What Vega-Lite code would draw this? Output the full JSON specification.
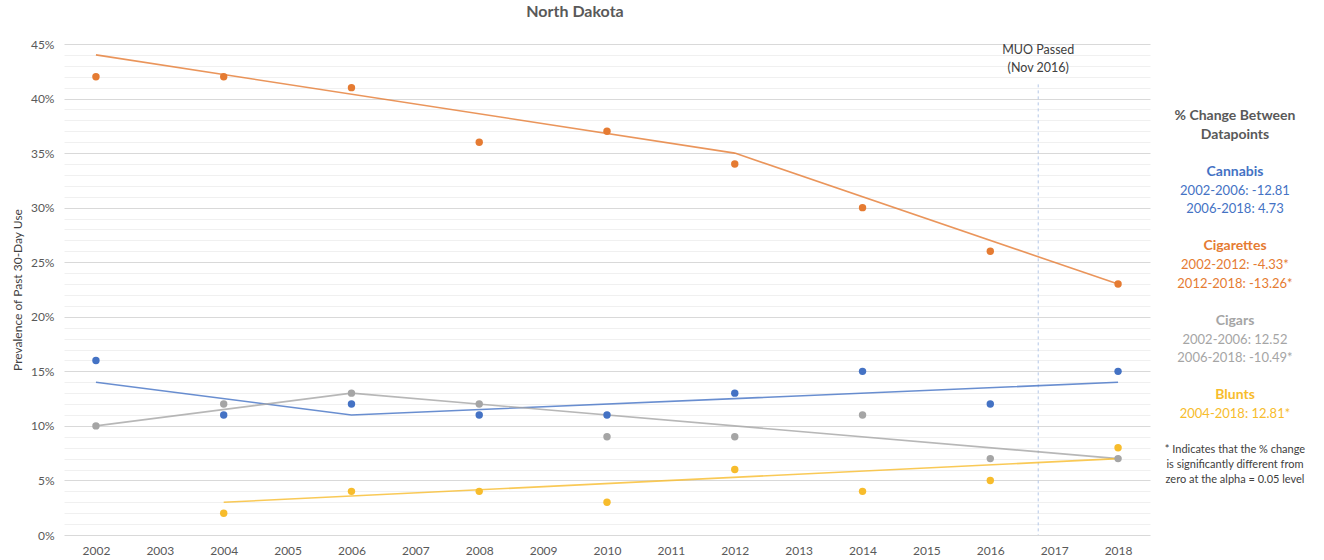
{
  "$schema": "https://vega.github.io/schema/vega-lite/v6.json",
  "autosize": {"type": "none"},
  "width": 1086,
  "height": 491,
  "padding": {"left": 64, "top": 44, "right": 174, "bottom": 25},
  "background": "white",
  "config": {
    "font": "Lato",
    "view": {"stroke": null},
    "title": {"font": "Lato"},
    "axis": {"labelFont": "Lato", "titleFont": "Lato", "labelOverlap": false}
  },
  "title": {
    "text": "North Dakota",
    "fontSize": 16,
    "fontWeight": "bold",
    "color": "#595959",
    "anchor": "middle",
    "frame": "group",
    "dx": -32,
    "dy": 18,
    "baseline": "middle",
    "offset": 28
  },
  "datasets": {
    "obs": [
      {"series": "Cigarettes", "year": 2002, "value": 42},
      {"series": "Cigarettes", "year": 2004, "value": 42},
      {"series": "Cigarettes", "year": 2006, "value": 41},
      {"series": "Cigarettes", "year": 2008, "value": 36},
      {"series": "Cigarettes", "year": 2010, "value": 37},
      {"series": "Cigarettes", "year": 2012, "value": 34},
      {"series": "Cigarettes", "year": 2014, "value": 30},
      {"series": "Cigarettes", "year": 2016, "value": 26},
      {"series": "Cigarettes", "year": 2018, "value": 23},
      {"series": "Cannabis", "year": 2002, "value": 16},
      {"series": "Cannabis", "year": 2004, "value": 11},
      {"series": "Cannabis", "year": 2006, "value": 12},
      {"series": "Cannabis", "year": 2008, "value": 11},
      {"series": "Cannabis", "year": 2010, "value": 11},
      {"series": "Cannabis", "year": 2012, "value": 13},
      {"series": "Cannabis", "year": 2014, "value": 15},
      {"series": "Cannabis", "year": 2016, "value": 12},
      {"series": "Cannabis", "year": 2018, "value": 15},
      {"series": "Cigars", "year": 2002, "value": 10},
      {"series": "Cigars", "year": 2004, "value": 12},
      {"series": "Cigars", "year": 2006, "value": 13},
      {"series": "Cigars", "year": 2008, "value": 12},
      {"series": "Cigars", "year": 2010, "value": 9},
      {"series": "Cigars", "year": 2012, "value": 9},
      {"series": "Cigars", "year": 2014, "value": 11},
      {"series": "Cigars", "year": 2016, "value": 7},
      {"series": "Cigars", "year": 2018, "value": 7},
      {"series": "Blunts", "year": 2004, "value": 2},
      {"series": "Blunts", "year": 2006, "value": 4},
      {"series": "Blunts", "year": 2008, "value": 4},
      {"series": "Blunts", "year": 2010, "value": 3},
      {"series": "Blunts", "year": 2012, "value": 6},
      {"series": "Blunts", "year": 2014, "value": 4},
      {"series": "Blunts", "year": 2016, "value": 5},
      {"series": "Blunts", "year": 2018, "value": 8}
    ],
    "trend": [
      {"series": "Cigarettes", "year": 2002, "value": 44},
      {"series": "Cigarettes", "year": 2012, "value": 35},
      {"series": "Cigarettes", "year": 2018, "value": 23},
      {"series": "Cannabis", "year": 2002, "value": 14},
      {"series": "Cannabis", "year": 2006, "value": 11},
      {"series": "Cannabis", "year": 2018, "value": 14},
      {"series": "Cigars", "year": 2002, "value": 10},
      {"series": "Cigars", "year": 2006, "value": 13},
      {"series": "Cigars", "year": 2018, "value": 7},
      {"series": "Blunts", "year": 2004, "value": 3},
      {"series": "Blunts", "year": 2018, "value": 7}
    ],
    "events": [
      {"event": "MUO Passed\n(Nov 2016)", "year": 2016.75}
    ],
    "panel": [
      {"line": 0, "label": "% Change Between", "group": "Header", "kind": "head"},
      {"line": 1, "label": "Datapoints", "group": "Header", "kind": "head"},
      {"line": 3, "label": "Cannabis", "group": "Cannabis", "kind": "head"},
      {"line": 4, "label": "2002-2006: -12.81", "group": "Cannabis", "kind": "val"},
      {"line": 5, "label": "2006-2018: 4.73", "group": "Cannabis", "kind": "val"},
      {"line": 7, "label": "Cigarettes", "group": "Cigarettes", "kind": "head"},
      {"line": 8, "label": "2002-2012: -4.33*", "group": "Cigarettes", "kind": "val"},
      {"line": 9, "label": "2012-2018: -13.26*", "group": "Cigarettes", "kind": "val"},
      {"line": 11, "label": "Cigars", "group": "Cigars", "kind": "head"},
      {"line": 12, "label": "2002-2006: 12.52", "group": "Cigars", "kind": "val"},
      {"line": 13, "label": "2006-2018: -10.49*", "group": "Cigars", "kind": "val"},
      {"line": 15, "label": "Blunts", "group": "Blunts", "kind": "head"},
      {"line": 16, "label": "2004-2018: 12.81*", "group": "Blunts", "kind": "val"},
      {"line": 18, "label": "* Indicates that the % change\nis significantly different from\nzero at the alpha = 0.05 level", "group": "Note", "kind": "note"}
    ]
  },
  "layer": [
    {
      "layer": [
        {
          "data": {"name": "events"},
          "mark": {"type": "rule", "color": "#B4C7E7", "strokeWidth": 1, "strokeDash": [3, 3]},
          "encoding": {
            "x": {
              "field": "year",
              "type": "quantitative",
              "scale": {"domain": [2001.5, 2018.5], "nice": false, "zero": false},
              "axis": {
                "title": null,
                "values": [2002, 2003, 2004, 2005, 2006, 2007, 2008, 2009, 2010, 2011, 2012, 2013, 2014, 2015, 2016, 2017, 2018],
                "tickCount": 40,
                "format": "d",
                "grid": false,
                "domain": false,
                "ticks": false,
                "labelOverlap": false,
                "labelPadding": 10,
                "labelFontSize": 12,
                "labelColor": "#595959"
              }
            },
            "y": {
              "datum": 41.3,
              "type": "quantitative",
              "scale": {"domain": [0, 45], "nice": false},
              "axis": {
                "title": "Prevalence of Past 30-Day Use",
                "titleFontSize": 12,
                "titleFontWeight": "normal",
                "titleColor": "#404040",
                "titlePadding": 6,
                "values": [0,1,2,3,4,5,6,7,8,9,10,11,12,13,14,15,16,17,18,19,20,21,22,23,24,25,26,27,28,29,30,31,32,33,34,35,36,37,38,39,40,41,42,43,44,45],
                "tickCount": 100,
                "labelExpr": "datum.value % 5 === 0 ? datum.value + '%' : ''",
                "labelOverlap": false,
                "labelFlush": false,
                "grid": true,
                "gridColor": {"condition": {"test": "datum.value % 5 === 0", "value": "#D9D9D9"}, "value": "#F0F0F0"},
                "gridWidth": 1,
                "domain": false,
                "ticks": false,
                "labelPadding": 10,
                "labelFontSize": 12,
                "labelColor": "#595959"
              }
            },
            "y2": {"datum": 0}
          }
        },
        {
          "data": {"name": "events"},
          "mark": {"type": "text", "fontSize": 12.5, "color": "#404040", "lineBreak": "\n", "lineHeight": 18, "baseline": "middle", "align": "center"},
          "encoding": {
            "x": {"field": "year", "type": "quantitative"},
            "y": {"datum": 44.45, "type": "quantitative"},
            "text": {"field": "event"}
          }
        },
        {
          "data": {"name": "trend"},
          "mark": {"type": "line", "strokeWidth": 1.6, "opacity": 0.8},
          "encoding": {
            "x": {"field": "year", "type": "quantitative"},
            "y": {"field": "value", "type": "quantitative"},
            "detail": {"field": "series"},
            "color": {"field": "series", "type": "nominal"}
          }
        },
        {
          "data": {"name": "obs"},
          "mark": {"type": "circle", "size": 55, "opacity": 1},
          "encoding": {
            "x": {"field": "year", "type": "quantitative"},
            "y": {"field": "value", "type": "quantitative"},
            "color": {
              "field": "series",
              "type": "nominal",
              "scale": {
                "domain": ["Cannabis", "Cigarettes", "Cigars", "Blunts", "Header", "Note"],
                "range": ["#4472C4", "#E57B32", "#A5A5A5", "#F7BC2C", "#595959", "#404040"]
              },
              "legend": null
            }
          }
        }
      ]
    },
    {
      "data": {"name": "panel"},
      "layer": [
        {
          "transform": [{"filter": "datum.kind === 'head'"}],
          "mark": {"type": "text", "fontSize": 14, "fontWeight": "bold", "align": "center", "baseline": "middle"},
          "encoding": {
            "x": {"datum": 2019.83, "type": "quantitative"},
            "y": {"field": "line", "type": "quantitative"},
            "text": {"field": "label"},
            "color": {"field": "group", "type": "nominal"}
          }
        },
        {
          "transform": [{"filter": "datum.kind === 'val'"}],
          "mark": {"type": "text", "fontSize": 13, "align": "center", "baseline": "middle"},
          "encoding": {
            "x": {"datum": 2019.83, "type": "quantitative"},
            "y": {"field": "line", "type": "quantitative"},
            "text": {"field": "label"},
            "color": {"field": "group", "type": "nominal"}
          }
        },
        {
          "transform": [{"filter": "datum.kind === 'note'"}],
          "mark": {"type": "text", "fontSize": 11, "align": "center", "baseline": "middle", "lineBreak": "\n", "lineHeight": 15, "dy": -1},
          "encoding": {
            "x": {"datum": 2019.83, "type": "quantitative"},
            "y": {
              "field": "line",
              "type": "quantitative",
              "scale": {"domain": [0, 16], "range": [72, 370], "nice": false, "zero": false},
              "axis": {"orient": "right", "labels": false, "ticks": false, "domain": false, "grid": false, "title": null}
            },
            "text": {"field": "label"},
            "color": {"field": "group", "type": "nominal"}
          }
        }
      ]
    }
  ],
  "resolve": {"scale": {"y": "independent"}}
}
